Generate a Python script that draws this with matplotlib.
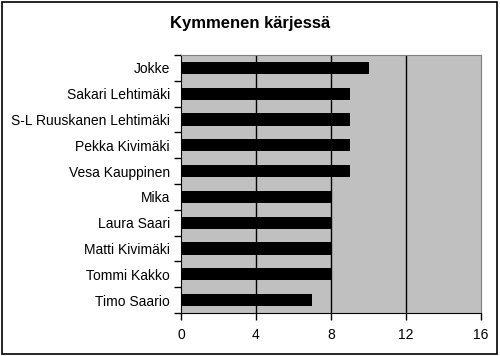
import matplotlib.pyplot as plt
import numpy as np

plt.rcParams['font.family'] = ['Liberation Sans', 'DejaVu Sans']

# Tiedot (ylhäältä alas)
names = ["Jokke", "Sakari Lehtimäki", "S-L Ruuskanen Lehtimäki", "Pekka Kivimäki",
         "Vesa Kauppinen", "Mika", "Laura Saari", "Matti Kivimäki",
         "Tommi Kakko", "Timo Saario"]
scores = [10, 9, 9, 9, 9, 8, 8, 8, 8, 7]
x_ticks = [0, 4, 8, 12, 16]

fig = plt.figure(figsize=(5.0, 3.56), dpi=100)
fig.patch.set_facecolor('white')
# kehys koko kuvan ympäri
fig.patches.append(plt.Rectangle((0.004, 0.006), 0.99, 0.988, transform=fig.transFigure,
                                 fill=False, edgecolor='black', linewidth=1.2))

ax = fig.add_axes([0.362, 0.1208, 0.6, 0.7247])
ax.set_facecolor('#c0c0c0')

y = np.arange(len(names))[::-1]
ax.barh(y, scores, height=0.47, color='black', zorder=3)

ax.set_xlim(0, 16)
ax.set_ylim(-0.5, len(names) - 0.5)
ax.set_xticks(x_ticks)
ax.set_xticklabels([str(t) for t in x_ticks], fontsize=10)
for t in x_ticks[1:-1]:
    ax.axvline(t, color='black', linewidth=1, zorder=2)

ax.set_yticks(y)
ax.set_yticklabels(names, fontsize=10)
ax.tick_params(axis='y', which='major', length=0, pad=8)
ax.set_yticks(np.arange(-0.5, len(names), 1), minor=True)
ax.tick_params(axis='y', which='minor', length=5, width=1, direction='out')
ax.tick_params(axis='x', length=5, width=1, direction='out', pad=6)

for side in ['top', 'right']:
    ax.spines[side].set_color('#808080')
for side in ['left', 'bottom']:
    ax.spines[side].set_color('black')

fig.text(0.5, 0.935, "Kymmenen kärjessä", ha='center', va='center',
         fontsize=12, fontweight='bold')

fig.savefig('out.png', dpi=100)
